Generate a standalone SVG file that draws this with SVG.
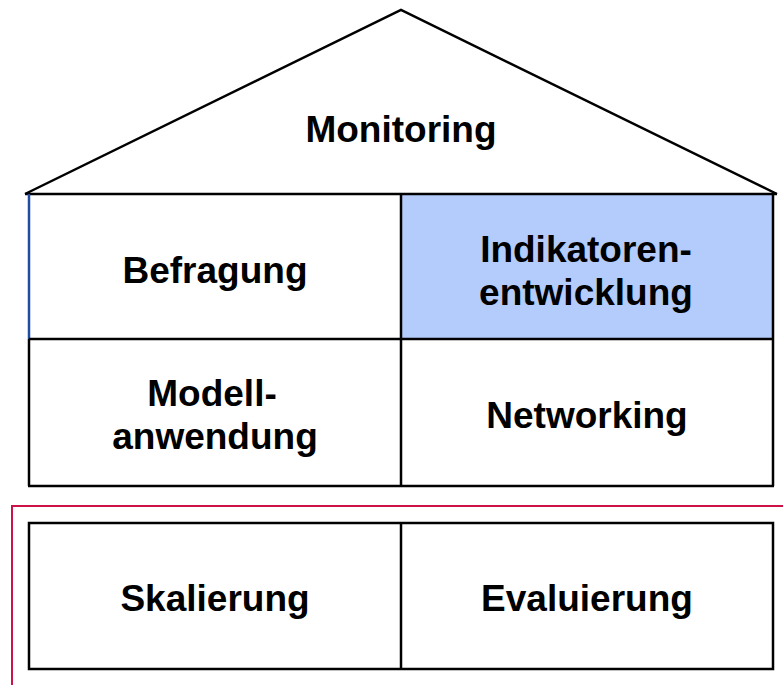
<svg xmlns="http://www.w3.org/2000/svg" width="783" height="685" viewBox="0 0 783 685">
  <style>
    .frame { fill: none; stroke: #000; stroke-width: 2.5; stroke-linejoin: miter; }
    .label { font-family: "Liberation Sans", Arial, sans-serif; font-weight: bold; font-size: 37px; fill: #000; text-anchor: middle; }
  </style>
  <rect width="783" height="685" fill="#fff"/>

  <!-- highlighted cell -->
  <rect x="401" y="194" width="372" height="145" fill="#B3CCFC"/>

  <!-- roof -->
  <g id="roof">
    <polyline class="frame" points="25,194 401,10 777,194"/>
    <text class="label" x="401" y="142">Monitoring</text>
  </g>

  <!-- house body -->
  <g id="house">
    <line class="frame" x1="25" y1="194" x2="777" y2="194"/>
    <line x1="29" y1="194" x2="29" y2="339" stroke="#1F4CA0" stroke-width="2.5"/>
    <line class="frame" x1="29" y1="339" x2="29" y2="486"/>
    <line class="frame" x1="773" y1="194" x2="773" y2="486"/>
    <line class="frame" x1="28" y1="486" x2="774" y2="486"/>
    <line class="frame" x1="29" y1="339" x2="773" y2="339"/>
    <line class="frame" x1="401" y1="194" x2="401" y2="486"/>
  </g>

  <g id="befragung">
    <text class="label" x="215" y="283">Befragung</text>
  </g>
  <g id="indikatoren">
    <text class="label" x="586" y="262">Indikatoren-</text>
    <text class="label" x="586" y="305">entwicklung</text>
  </g>
  <g id="modell">
    <text class="label" x="212" y="406">Modell-</text>
    <text class="label" x="215" y="449">anwendung</text>
  </g>
  <g id="networking">
    <text class="label" x="587" y="428">Networking</text>
  </g>

  <!-- foundation bracket -->
  <polyline points="12,685 12,506 783,506" fill="none" stroke="#CC1247" stroke-width="2"/>

  <!-- foundation -->
  <g id="foundation">
    <rect class="frame" x="29" y="523" width="744" height="146"/>
    <line class="frame" x1="401" y1="523" x2="401" y2="669"/>
  </g>
  <g id="skalierung">
    <text class="label" x="215" y="611">Skalierung</text>
  </g>
  <g id="evaluierung">
    <text class="label" x="587" y="611">Evaluierung</text>
  </g>
</svg>
